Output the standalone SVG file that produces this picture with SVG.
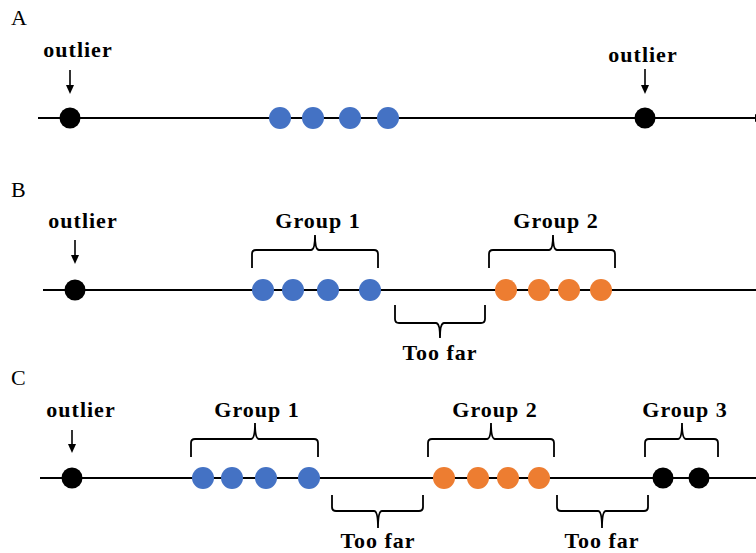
<svg xmlns="http://www.w3.org/2000/svg" width="756" height="553" viewBox="0 0 756 553">
<style>
.lbl{font-family:"Liberation Serif","Times New Roman",serif;font-size:22px;fill:#000}
.t{font-family:"Liberation Serif","Times New Roman",serif;font-size:22px;font-weight:bold;letter-spacing:1px;fill:#000;text-anchor:middle}
.axis{stroke:#000;stroke-width:2;fill:none}
.ptr{stroke:#000;stroke-width:1.6;fill:none}
.br{stroke:#000;stroke-width:1.8;fill:none}
.k{fill:#000}.b{fill:#4472C4}.o{fill:#ED7D31}
</style>
<defs>
<marker id="ah" markerWidth="8" markerHeight="8" refX="7" refY="4" orient="auto" markerUnits="userSpaceOnUse"><path d="M0,0 L8,4 L0,8 Z" fill="#000"/></marker>
</defs>
<g id="connectors">
<line class="axis" x1="38" y1="118" x2="762" y2="118" marker-end="url(#ah)"/>
<line class="axis" x1="43" y1="290" x2="756" y2="290"/>
<line class="axis" x1="40" y1="478" x2="764" y2="478" marker-end="url(#ah)"/>
<path class="ptr" d="M70,70 V86"/><path d="M66,85 L74,85 L70,94 Z" class="k"/>
<path class="ptr" d="M645,69 V86"/><path d="M641,85 L649,85 L645,94 Z" class="k"/>
<path class="ptr" d="M75,240 V256"/><path d="M71,255 L79,255 L75,264 Z" class="k"/>
<path class="ptr" d="M72,430 V445"/><path d="M68,444 L76,444 L72,453 Z" class="k"/>
<path class="br" d="M252,268 V254 Q252,250 256,250 H311 Q315,250 315,235 Q315,250 319,250 H374 Q378,250 378,254 V268"/>
<path class="br" d="M489,268 V254 Q489,250 493,250 H549 Q553,250 553,235 Q553,250 557,250 H611 Q615,250 615,254 V268"/>
<path class="br" d="M395,305 V319 Q395,323 399,323 H436 Q440,323 440,338 Q440,323 444,323 H481 Q485,323 485,319 V305"/>
<path class="br" d="M191,457 V443 Q191,439 195,439 H251 Q255,439 255,423 Q255,439 259,439 H314 Q318,439 318,443 V457"/>
<path class="br" d="M428,457 V443 Q428,439 432,439 H487 Q491,439 491,423 Q491,439 495,439 H550 Q554,439 554,443 V457"/>
<path class="br" d="M645,457 V443 Q645,439 649,439 H678 Q682,439 682,423 Q682,439 686,439 H714 Q718,439 718,443 V457"/>
<path class="br" d="M332,495 V507 Q332,511 336,511 H374 Q378,511 378,528 Q378,511 382,511 H419 Q423,511 423,507 V495"/>
<path class="br" d="M557,495 V507 Q557,511 561,511 H598 Q602,511 602,528 Q602,511 606,511 H644 Q648,511 648,507 V495"/>
</g>
<g id="panelA">
<text class="lbl" x="11" y="25">A</text>
<text class="t" x="78" y="57">outlier</text>
<text class="t" x="643" y="62">outlier</text>
<circle class="k" cx="70" cy="118" r="10.5"/>
<circle class="b" cx="280" cy="118" r="11"/>
<circle class="b" cx="313" cy="118" r="11"/>
<circle class="b" cx="350" cy="118" r="11"/>
<circle class="b" cx="388" cy="118" r="11"/>
<circle class="k" cx="645" cy="118" r="10.5"/>
</g>
<g id="panelB">
<text class="lbl" x="11" y="197">B</text>
<text class="t" x="83" y="228">outlier</text>
<text class="t" x="318" y="228">Group 1</text>
<text class="t" x="556" y="228">Group 2</text>
<text class="t" x="440" y="360">Too far</text>
<circle class="k" cx="75" cy="290" r="10.5"/>
<circle class="b" cx="263" cy="290" r="11"/>
<circle class="b" cx="293" cy="290" r="11"/>
<circle class="b" cx="328" cy="290" r="11"/>
<circle class="b" cx="370" cy="290" r="11"/>
<circle class="o" cx="506" cy="290" r="11"/>
<circle class="o" cx="539" cy="290" r="11"/>
<circle class="o" cx="569" cy="290" r="11"/>
<circle class="o" cx="601" cy="290" r="11"/>
</g>
<g id="panelC">
<text class="lbl" x="11" y="385">C</text>
<text class="t" x="81" y="417">outlier</text>
<text class="t" x="257" y="417">Group 1</text>
<text class="t" x="495" y="417">Group 2</text>
<text class="t" x="685" y="417">Group 3</text>
<text class="t" x="378" y="548">Too far</text>
<text class="t" x="602" y="548">Too far</text>
<circle class="k" cx="72" cy="478" r="10.5"/>
<circle class="b" cx="203" cy="478" r="11"/>
<circle class="b" cx="232" cy="478" r="11"/>
<circle class="b" cx="266" cy="478" r="11"/>
<circle class="b" cx="309" cy="478" r="11"/>
<circle class="o" cx="444" cy="478" r="11"/>
<circle class="o" cx="478" cy="478" r="11"/>
<circle class="o" cx="508" cy="478" r="11"/>
<circle class="o" cx="539" cy="478" r="11"/>
<circle class="k" cx="663" cy="478" r="10.5"/>
<circle class="k" cx="699" cy="478" r="10.5"/>
</g>
</svg>
